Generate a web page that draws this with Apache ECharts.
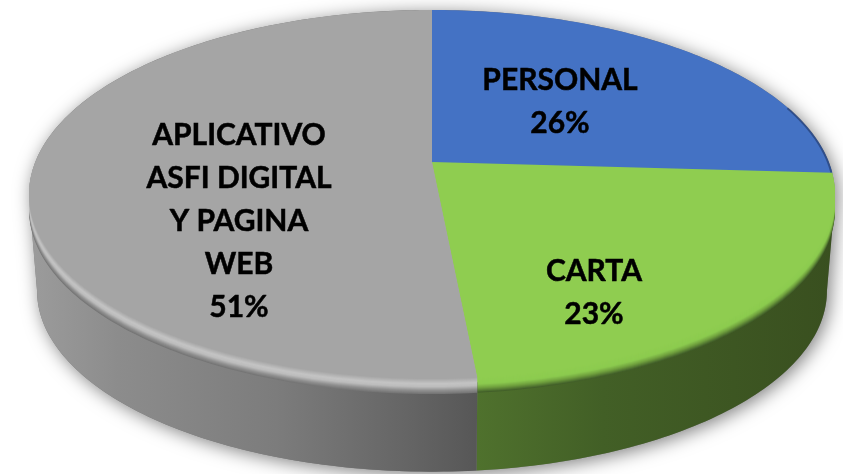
<!DOCTYPE html>
<html>
<head>
<meta charset="utf-8">
<style>html,body{margin:0;padding:0;background:#fff}#c{width:843px;height:474px}</style>
<script src="https://cdn.jsdelivr.net/npm/echarts@6/dist/echarts.min.js"></script>
</head>
<body>
<div id="c"></div>
<script>
// data
const categories = ['PERSONAL', 'CARTA', 'APLICATIVO\nASFI DIGITAL\nY PAGINA\nWEB'];
const values = [25.9, 22.5, 51.4];

// styles & layout
const topColors = ['#4472c4', '#8fcd50', '#a5a5a5'];
const rimStops = [
  [[0, '#4472c4'], [0.5, '#4472c4'], [1, '#2c4a80']],
  [[0, '#8fcd50'], [0.45, '#8ccb4f'], [0.72, '#6f9f3e'], [1, '#43602a']],
  [[0, '#a5a5a5'], [0.35, '#c4c4c4'], [0.55, '#bcbcbc'], [0.8, '#8f8f8f'], [1, '#767676']]
];
const wallStops = [
  [[0, '#2c4a80'], [1, '#2c4a80']],
  [[0, '#4f712d'], [0.35, '#425f26'], [1, '#394f1f']],
  [[0, '#9c9c9c'], [0.2, '#8c8c8c'], [0.55, '#7c7c7c'], [0.85, '#646464'], [1, '#565656']]
];
const wallRanges = [[430, 840], [478, 836], [28, 480]];
const labelCentres = [[560, 102], [594, 293], [239, 221]];

const CX = 432, CY = 162;
const A = 396.7, B = 178.8, P = 0.176;
const RIM = 15, DEPTH = 97, BOTTOM_SCALE = 0.98;
const RIGHT_TANGENT = Math.acos(-P) * 180 / Math.PI;
const LEFT_TANGENT = 360 - RIGHT_TANGENT;
const total = values.reduce((a, b) => a + b, 0);

function pt(deg, dy, s) {
  const t = deg * Math.PI / 180, u = Math.sin(t), v = -Math.cos(t), d = 1 - P * v;
  return [CX + s * A * u / d, CY + dy + s * B * v / d];
}
function arc(from, to, dy, s) {
  const n = Math.max(2, Math.ceil(Math.abs(to - from)));
  const out = [];
  for (let i = 0; i <= n; i++) out.push(pt(from + (to - from) * i / n, dy, s));
  return out;
}
function span(i) {
  let c = 0;
  for (let k = 0; k < i; k++) c += values[k];
  return [c / total * 360, (c + values[i]) / total * 360];
}
function sector(i, dy) {
  const [a, b] = span(i);
  return [[CX, CY + dy]].concat(arc(a, b, dy, 1));
}
function rimColor(i, f) {
  const st = rimStops[i];
  for (let k = 1; k < st.length; k++) {
    if (f <= st[k][0]) {
      return echarts.color.lerp((f - st[k - 1][0]) / (st[k][0] - st[k - 1][0]), [st[k - 1][1], st[k][1]]);
    }
  }
  return st[st.length - 1][1];
}

function renderShadow() {
  const hull = arc(RIGHT_TANGENT, LEFT_TANGENT, DEPTH, BOTTOM_SCALE)
    .concat(arc(LEFT_TANGENT, RIGHT_TANGENT + 360, 0, 1));
  return {
    type: 'polygon',
    shape: { points: hull },
    style: { fill: '#777', shadowBlur: 18, shadowColor: 'rgba(0,0,0,0.5)', shadowOffsetX: 3, shadowOffsetY: 3 }
  };
}
function renderWall(params, api) {
  const i = api.value(1);
  const [a0, b0] = span(i);
  const a = Math.max(a0, RIGHT_TANGENT), b = Math.min(b0, LEFT_TANGENT);
  const children = [];
  if (b > a) {
    const wall = arc(a, b, RIM * 0.3, 1).concat(arc(b, a, DEPTH, BOTTOM_SCALE));
    const grad = new echarts.graphic.LinearGradient(wallRanges[i][0], 0, wallRanges[i][1], 0,
      wallStops[i].map(s => ({ offset: s[0], color: s[1] })), true);
    children.push({ type: 'polygon', shape: { points: wall }, style: { fill: grad } });
  }
  for (let off = RIM; off >= 1; off--) {
    children.push({ type: 'polygon', shape: { points: sector(i, off) }, style: { fill: rimColor(i, off / RIM) } });
  }
  return { type: 'group', children };
}
function renderTop(params, api) {
  const i = api.value(1), v = api.value(0);
  const [a, b] = span(i);
  const children = [
    { type: 'polygon', shape: { points: sector(i, 0) }, style: { fill: topColors[i] } }
  ];
  if (i === 0) {
    children.push({
      type: 'polyline',
      shape: { points: arc(b - 22, b, 0, 0.998) },
      style: { fill: null, stroke: 'rgba(30,50,95,0.55)', lineWidth: 2 }
    });
  }
  children.push({
    type: 'text',
    x: labelCentres[i][0], y: labelCentres[i][1],
    style: {
      text: categories[i] + '\n' + Math.round(v) + '%',
      fill: '#000', stroke: '#000', lineWidth: 0.5, align: 'center', verticalAlign: 'middle',
      font: 'bold 30px Lato', lineHeight: 43
    }
  });
  return { type: 'group', children };
}

const rows = values.map((v, i) => [v, i]);
const chart = echarts.init(document.getElementById('c'), null, { renderer: 'canvas' });
chart.setOption({
  backgroundColor: '#fff',
  animation: false,
  series: [
    { type: 'custom', coordinateSystem: 'none', silent: true, z: 1, data: [[total, 0]], renderItem: renderShadow },
    { type: 'custom', coordinateSystem: 'none', silent: true, z: 2, data: rows, renderItem: renderWall },
    { type: 'custom', coordinateSystem: 'none', silent: true, z: 3, data: rows, renderItem: renderTop }
  ]
});
</script>
</body>
</html>
